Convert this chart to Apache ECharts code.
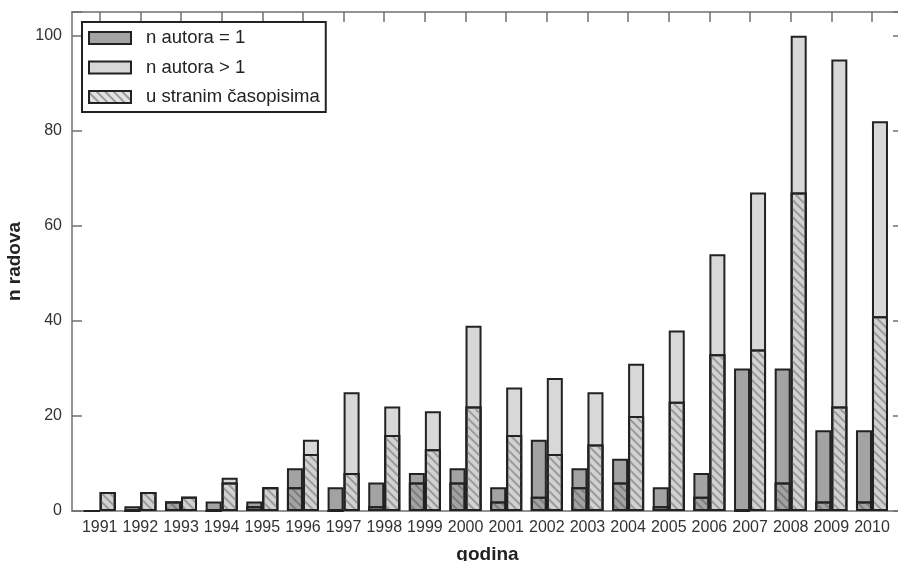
<!DOCTYPE html>
<html>
<head>
<meta charset="utf-8">
<script src="https://cdn.jsdelivr.net/npm/echarts@6/dist/echarts.min.js"></script>
<style>html,body{margin:0;padding:0;background:#fff}#c{width:898px;height:561px}</style>
</head>
<body>
<div id="c"></div>
<script>
const years = ['1991','1992','1993','1994','1995','1996','1997','1998','1999','2000','2001','2002','2003','2004','2005','2006','2007','2008','2009','2010'];
const singleTotal   = [0,1,2,2,2,9,5,6,8,9,5,15,9,11,5,8,30,30,17,17];
const singleForeign = [0,0,2,0,1,5,0,1,6,6,2,3,5,6,1,3,0,6,2,2];
const multiTotal    = [4,4,3,7,5,15,25,22,21,39,26,28,25,31,38,54,67,100,95,82];
const multiForeign  = [4,4,3,6,5,12,8,16,13,22,16,12,14,20,23,33,34,67,22,41];
const yTicks = [0,20,40,60,80,100];

const FONT = 'Liberation Sans, Arial, sans-serif';
const BORDER = '#222';
const DARK = '#a3a3a3';
const LIGHT = '#d8d8d8';
const AXIS = '#707070';
const hatch = (c) => ({symbol:'rect', symbolSize:1, dashArrayX:[1,0], dashArrayY:[1.3,3.2], rotation:Math.PI/4, color:c});

const chart = echarts.init(document.getElementById('c'), null, {renderer:'canvas'});
const line = {show:true, onZero:false, lineStyle:{color:AXIS, width:1.5}};
const tickIn = {show:true, inside:true, length:10, lineStyle:{color:AXIS, width:1.5}};
const frameY = {type:'value', gridIndex:0, min:0, max:105, interval:20, axisLine:line, axisTick:tickIn, splitLine:{show:false}};

chart.setOption({
  animation:false,
  grid:[
    {left:72, right:-5, top:12, bottom:50, outerBoundsMode:'none', containLabel:false},
    {left:79.4, right:5.7, top:12, bottom:50, outerBoundsMode:'none', containLabel:false}
  ],
  legend:{
    orient:'vertical', left:82, top:22, icon:'rect',
    padding:[5,6,4,6], itemGap:7.5, itemWidth:42, itemHeight:12,
    borderColor:BORDER, borderWidth:2, backgroundColor:'#fff',
    textStyle:{fontFamily:FONT, fontSize:18.5, color:'#222', lineHeight:22, padding:[0,0,0,10]},
    data:[
      'n autora = 1',
      'n autora > 1',
      {name:'u stranim časopisima', itemStyle:{color:'#e2e2e2', decal:hatch('#9a9a9a')}}
    ]
  },
  xAxis:[
    {type:'value', gridIndex:0, position:'bottom', min:0, max:1, axisLine:line, axisTick:{show:false},
     axisLabel:{show:false}, splitLine:{show:false},
     name:'godina', nameLocation:'middle', nameGap:34,
     nameTextStyle:{fontFamily:FONT, fontSize:19, fontWeight:'bold', color:'#222'}},
    {type:'value', gridIndex:0, position:'top', min:0, max:1, axisLine:line, axisTick:{show:false},
     axisLabel:{show:false}, splitLine:{show:false}},
    {type:'category', gridIndex:1, position:'bottom', data:years, axisLine:{show:false, onZero:false}, axisTick:{show:false},
     axisLabel:{fontFamily:FONT, fontSize:16, color:'#333', margin:9, interval:0}},
    {type:'category', gridIndex:1, position:'top', data:years, axisLine:{show:false, onZero:false},
     axisTick:Object.assign({alignWithLabel:true, interval:0}, tickIn), axisLabel:{show:false}}
  ],
  yAxis:[
    Object.assign({}, frameY, {position:'left',
      name:'n radova', nameLocation:'middle', nameGap:41,
      nameTextStyle:{fontFamily:FONT, fontSize:19, fontWeight:'bold', color:'#222'},
      axisLabel:{fontFamily:FONT, fontSize:16, color:'#333', margin:10,
        formatter:(v)=> yTicks.indexOf(v) >= 0 ? String(v) : ''}}),
    Object.assign({}, frameY, {position:'right', axisLabel:{show:false}}),
    {type:'value', gridIndex:1, min:0, max:105, show:false}
  ],
  series:[
    {name:'n autora = 1', type:'bar', xAxisIndex:2, yAxisIndex:2, barWidth:16, barGap:'0%',
     data:singleTotal,
     itemStyle:{color:DARK, borderColor:BORDER, borderWidth:2}},
    {name:'n autora > 1', type:'bar', xAxisIndex:2, yAxisIndex:2, barWidth:16, barGap:'0%',
     data:multiTotal,
     itemStyle:{color:LIGHT, borderColor:BORDER, borderWidth:2}},
    {name:'u stranim časopisima', type:'bar', xAxisIndex:3, yAxisIndex:2, barWidth:16, barGap:'0%',
     data:singleForeign,
     itemStyle:{color:DARK, borderColor:BORDER, borderWidth:2, decal:hatch('#7c7c7c')}},
    {name:'u stranim časopisima', type:'bar', xAxisIndex:3, yAxisIndex:2, barWidth:16, barGap:'0%',
     data:multiForeign,
     itemStyle:{color:'#d2d2d2', borderColor:BORDER, borderWidth:2, decal:hatch('#9a9a9a')}}
  ]
});
</script>
</body>
</html>
